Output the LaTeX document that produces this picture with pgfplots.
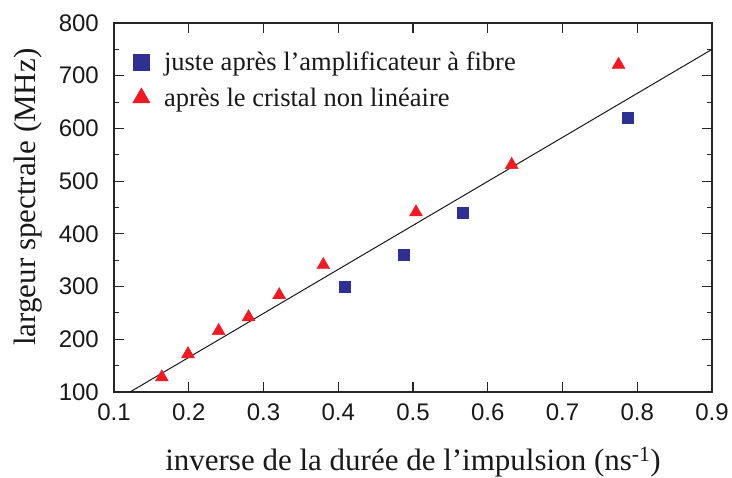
\documentclass[border=0pt]{standalone}
\usepackage{fontspec}
\setmainfont{Liberation Serif}
\newfontfamily\sansfont{Liberation Sans}
\usepackage{pgfplots}
\pgfplotsset{compat=1.18}
\definecolor{myblue}{RGB}{46,49,146}
\definecolor{myred}{RGB}{237,28,36}
\begin{document}
\begin{tikzpicture}
\begin{axis}[
  name=ax,
  scale only axis,
  width=598bp, height=369bp,
  xmin=0.1, xmax=0.9, ymin=100, ymax=800,
  xtick={0.1,0.2,0.3,0.4,0.5,0.6,0.7,0.8,0.9},
  ytick={100,200,300,400,500,600,700,800},
  minor y tick num=1,
  tick align=inside,
  major tick length=10bp,
  minor tick length=5bp,
  axis line style={line width=1.2bp, black!85},
  every tick/.style={line width=1.1bp, black!85},
  /pgf/number format/assume math mode=true,
  xticklabel style={/pgf/number format/fixed, /pgf/number format/precision=1, /pgf/number format/fixed zerofill},
  tick label style={font=\sansfont\fontsize{24bp}{26bp}\selectfont, inner sep=0pt, text=black!90},
  xticklabel style={anchor=north, yshift=-12bp},
  yticklabel style={anchor=east, xshift=-15bp, /pgf/number format/1000 sep={}},
  xlabel={inverse de la durée de l’impulsion (ns\textsuperscript{-1})},
  ylabel={largeur spectrale (MHz)},
  every axis x label/.style={at={(axis description cs:0.5,-0.213)}, anchor=base, font=\fontsize{31bp}{33bp}\selectfont, text=black!90},
  every axis y label/.style={at={(axis description cs:-0.143,0.528)}, rotate=90, anchor=center, font=\fontsize{31bp}{33bp}\selectfont, text=black!90},
  legend style={at={(axis description cs:0.031,0.928)}, anchor=north west, draw=none, fill=none,
    font=\fontsize{26.5bp}{28bp}\selectfont, row sep=12bp, inner sep=0pt, column sep=12bp, text=black!90},
  legend cell align=left,
]
\addlegendimage{only marks, mark=square*, mark size=8bp, color=myblue}
\addlegendentry{juste après l’amplificateur à fibre}
\addlegendimage{only marks, mark=triangle*, mark size=10bp, color=myred}
\addlegendentry{après le cristal non linéaire}

\addplot[black!90, line width=1bp, forget plot] coordinates {(0.1214,100) (0.9,750)};

\addplot[only marks, mark=square*, mark size=5.5bp, color=myblue, forget plot] coordinates {
(0.408,300) (0.487,360) (0.567,440) (0.787,620)
};
\addplot[only marks, mark=triangle*, mark size=7.5bp, color=myred, forget plot] coordinates {
(0.164,128) (0.199,172) (0.240,216) (0.280,242) (0.321,284) (0.380,341) (0.504,441) (0.632,531) (0.775,721)
};
\end{axis}
\pgfresetboundingbox
\path ([shift={(-114bp,-85bp)}]ax.south west) rectangle ([shift={(20bp,23bp)}]ax.north east);
\end{tikzpicture}
\end{document}
